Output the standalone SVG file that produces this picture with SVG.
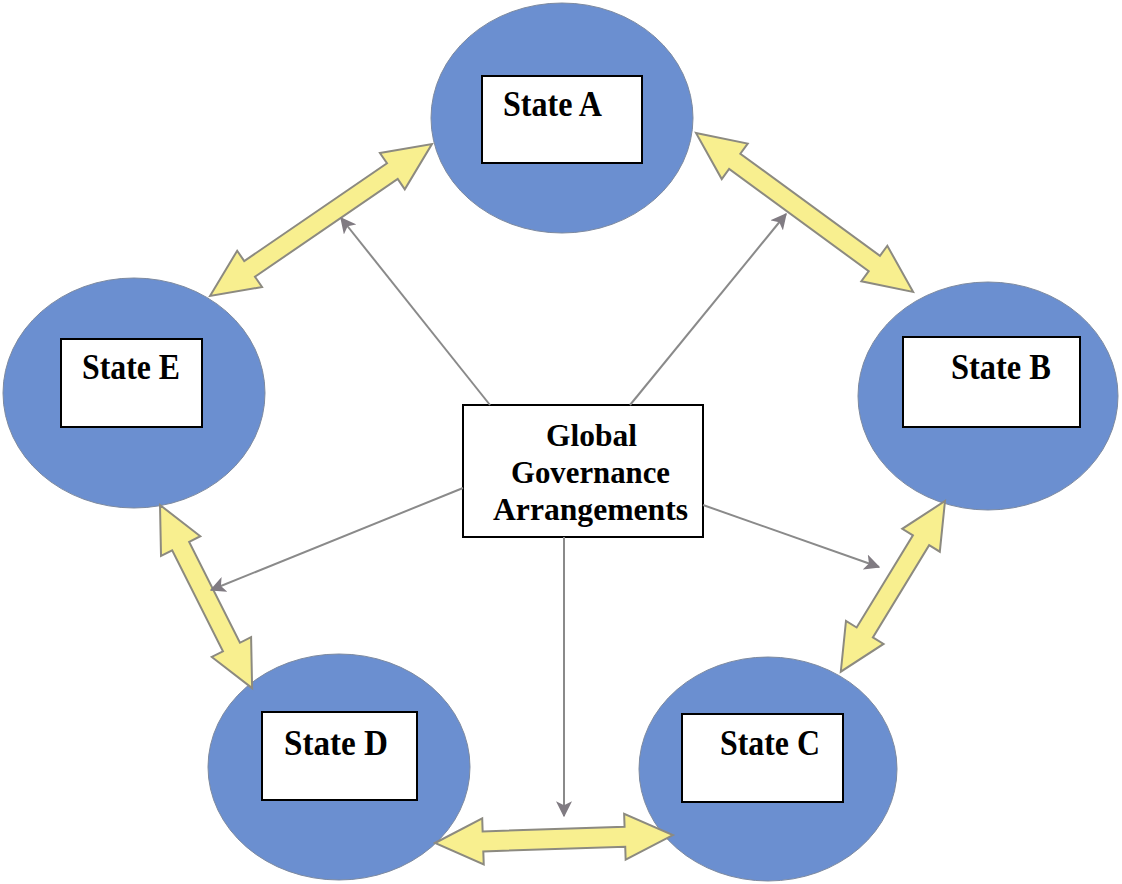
<svg xmlns="http://www.w3.org/2000/svg" width="1122" height="884" viewBox="0 0 1122 884">
<style>
.st{fill:#6b8fd0;stroke:#7d8aa0;stroke-width:1;}
.bx{fill:#fff;stroke:#000;stroke-width:2;}
.t{font-family:"Liberation Serif","Times New Roman",serif;font-weight:bold;font-size:35px;fill:#000;}
.g{font-size:32px;}
.ya{fill:#f8ef8f;stroke:#8c8a80;stroke-width:2;stroke-linejoin:miter;}
.ga{stroke:#8a8a8a;stroke-width:2;fill:none;marker-end:url(#gh);}
</style>
<defs>
<marker id="gh" viewBox="0 0 12 12" refX="11" refY="6" markerWidth="8" markerHeight="8" markerUnits="strokeWidth" orient="auto">
<path d="M0,0 L12,6 L0,12 L3,6 Z" fill="#807b82"/>
</marker>
</defs>
<rect width="1122" height="884" fill="#fff"/>
<g id="stateA">
<ellipse class="st" cx="562" cy="118" rx="131" ry="115"/>
<rect class="bx" x="482" y="76" width="160" height="87"/>
<text class="t" x="503" y="116" textLength="99" lengthAdjust="spacingAndGlyphs">State A</text>
</g>
<g id="stateB">
<ellipse class="st" cx="988" cy="396" rx="130" ry="114"/>
<rect class="bx" x="903" y="337" width="177" height="90"/>
<text class="t" x="951" y="379" textLength="100" lengthAdjust="spacingAndGlyphs">State B</text>
</g>
<g id="stateE">
<ellipse class="st" cx="134" cy="393" rx="131" ry="115"/>
<rect class="bx" x="61" y="339" width="141" height="88"/>
<text class="t" x="82" y="379" textLength="98" lengthAdjust="spacingAndGlyphs">State E</text>
</g>
<g id="stateD">
<ellipse class="st" cx="339" cy="767" rx="131" ry="113"/>
<rect class="bx" x="262" y="712" width="155" height="88"/>
<text class="t" x="284" y="755" textLength="104" lengthAdjust="spacingAndGlyphs">State D</text>
</g>
<g id="stateC">
<ellipse class="st" cx="768" cy="769" rx="129" ry="112"/>
<rect class="bx" x="682" y="714" width="161" height="88"/>
<text class="t" x="720" y="755" textLength="100" lengthAdjust="spacingAndGlyphs">State C</text>
</g>
<g id="global">
<rect class="bx" x="463" y="405" width="240" height="132"/>
<text class="t g" x="546" y="446" textLength="91" lengthAdjust="spacingAndGlyphs">Global</text>
<text class="t g" x="511" y="483" textLength="159" lengthAdjust="spacingAndGlyphs">Governance</text>
<text class="t g" x="493" y="520" textLength="195" lengthAdjust="spacingAndGlyphs">Arrangements</text>
</g>
<g id="connectors">
<path class="ya" transform="translate(210,296) rotate(-34.4)" d="M0,0 L48,-22 L48,-9.5 L221,-9.5 L221,-22 L269,0 L221,22 L221,9.5 L48,9.5 L48,22 Z"/>
<path class="ya" transform="translate(696,133) rotate(36.2)" d="M0,0 L48,-22 L48,-9.5 L221,-9.5 L221,-22 L269,0 L221,22 L221,9.5 L48,9.5 L48,22 Z"/>
<path class="ya" transform="translate(945,501) rotate(121.4)" d="M0,0 L46,-22 L46,-9.5 L154,-9.5 L154,-22 L200,0 L154,22 L154,9.5 L46,9.5 L46,22 Z"/>
<path class="ya" transform="translate(160,505) rotate(63.3)" d="M0,0 L46,-22 L46,-9.5 L159,-9.5 L159,-22 L205,0 L159,22 L159,9.5 L46,9.5 L46,22 Z"/>
<path class="ya" transform="translate(435,843) rotate(-1.9)" d="M0,0 L48,-23 L48,-10 L190,-10 L190,-23 L238,0 L190,23 L190,10 L48,10 L48,23 Z"/>
<line class="ga" x1="490" y1="405" x2="341" y2="218"/>
<line class="ga" x1="630" y1="405" x2="786" y2="214"/>
<line class="ga" x1="463" y1="488" x2="211" y2="590"/>
<line class="ga" x1="703" y1="505" x2="879" y2="567"/>
<line class="ga" x1="564" y1="537" x2="564" y2="816"/>
</g>
</svg>
